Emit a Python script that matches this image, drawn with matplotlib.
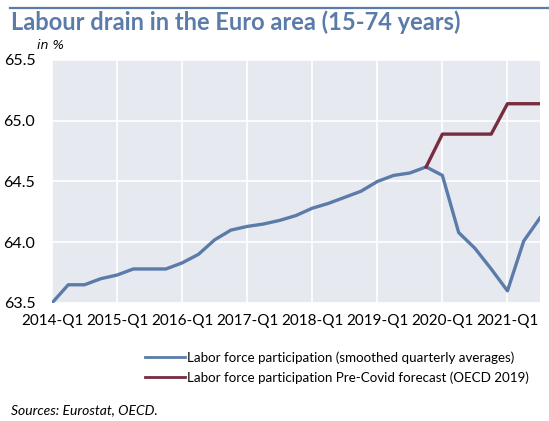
import numpy as np
import matplotlib.pyplot as plt
from matplotlib.lines import Line2D

# quarters 2014-Q1 .. 2021-Q3
quarters = [f"{y}-Q{q}" for y in range(2014, 2022) for q in range(1, 5)][:31]
tick_labels = [f"{y}-Q1" for y in range(2014, 2022)]

participation = [63.50, 63.65, 63.65, 63.70, 63.73, 63.78, 63.78, 63.78,
                 63.83, 63.90, 64.02, 64.10, 64.13, 64.15, 64.18, 64.22,
                 64.28, 64.32, 64.37, 64.42, 64.50, 64.55, 64.57, 64.62,
                 64.55, 64.08, 63.95, 63.78, 63.60, 64.01, 64.20]
forecast_start = 23
forecast = [64.62, 64.89, 64.89, 64.89, 64.89, 65.14, 65.14, 65.14]

blue = "#5b7ba8"
red = "#782c3e"

fig = plt.figure(figsize=(5.49, 4.21), dpi=100)
ax = fig.add_axes([0.0947, 0.2803, 0.8889, 0.5772])
ax.set_facecolor("#e7e9f1")

x = np.arange(len(participation))
ax.plot(x, participation, color=blue, lw=2.4)
xf = np.arange(forecast_start, forecast_start + len(forecast))
ax.plot(xf, forecast, color=red, lw=2.4)

ax.set_xlim(0, len(participation) - 1)
ax.set_ylim(63.5, 65.5)
ax.set_xticks(np.arange(0, len(participation), 4))
ax.set_xticklabels(tick_labels)
ax.set_yticks([63.5, 64.0, 64.5, 65.0, 65.5])
ax.set_yticklabels(["63.5", "64.0", "64.5", "65.0", "65.5"])
ax.grid(color="white", lw=1.2)
ax.set_axisbelow(True)
for s in ax.spines.values():
    s.set_visible(False)
ax.tick_params(axis="x", length=0, labelsize=11, pad=8)
ax.tick_params(axis="y", length=0, labelsize=11.5, pad=12)
for lab in ax.get_xticklabels() + ax.get_yticklabels():
    lab.set_family("Lato")

# header
fig.add_artist(Line2D([0.018, 1.0], [0.980, 0.980], color=blue, lw=1.6))
fig.text(0.02, 0.948, "Labour drain in the Euro area (15-74 years)",
         fontsize=17, fontweight="bold", color=blue, family="Lato", va="center")
fig.text(0.067, 0.893, "in %", fontsize=9, style="italic", va="center")

handles = [Line2D([], [], color=blue, lw=2),
           Line2D([], [], color=red, lw=2)]
fig.legend(handles,
           ["Labor force participation (smoothed quarterly averages)",
            "Labor force participation Pre-Covid forecast (OECD 2019)"],
           loc="center left", bbox_to_anchor=(0.252, 0.127), frameon=False,
           handlelength=3.0, handletextpad=0.15, labelspacing=0.55,
           borderpad=0, prop={"family": "Lato", "size": 9.6})

fig.text(0.02, 0.025, "Sources: Eurostat, OECD.", fontsize=10,
         style="italic", family="Lato", va="center")

fig.savefig("out.png", dpi=100)
